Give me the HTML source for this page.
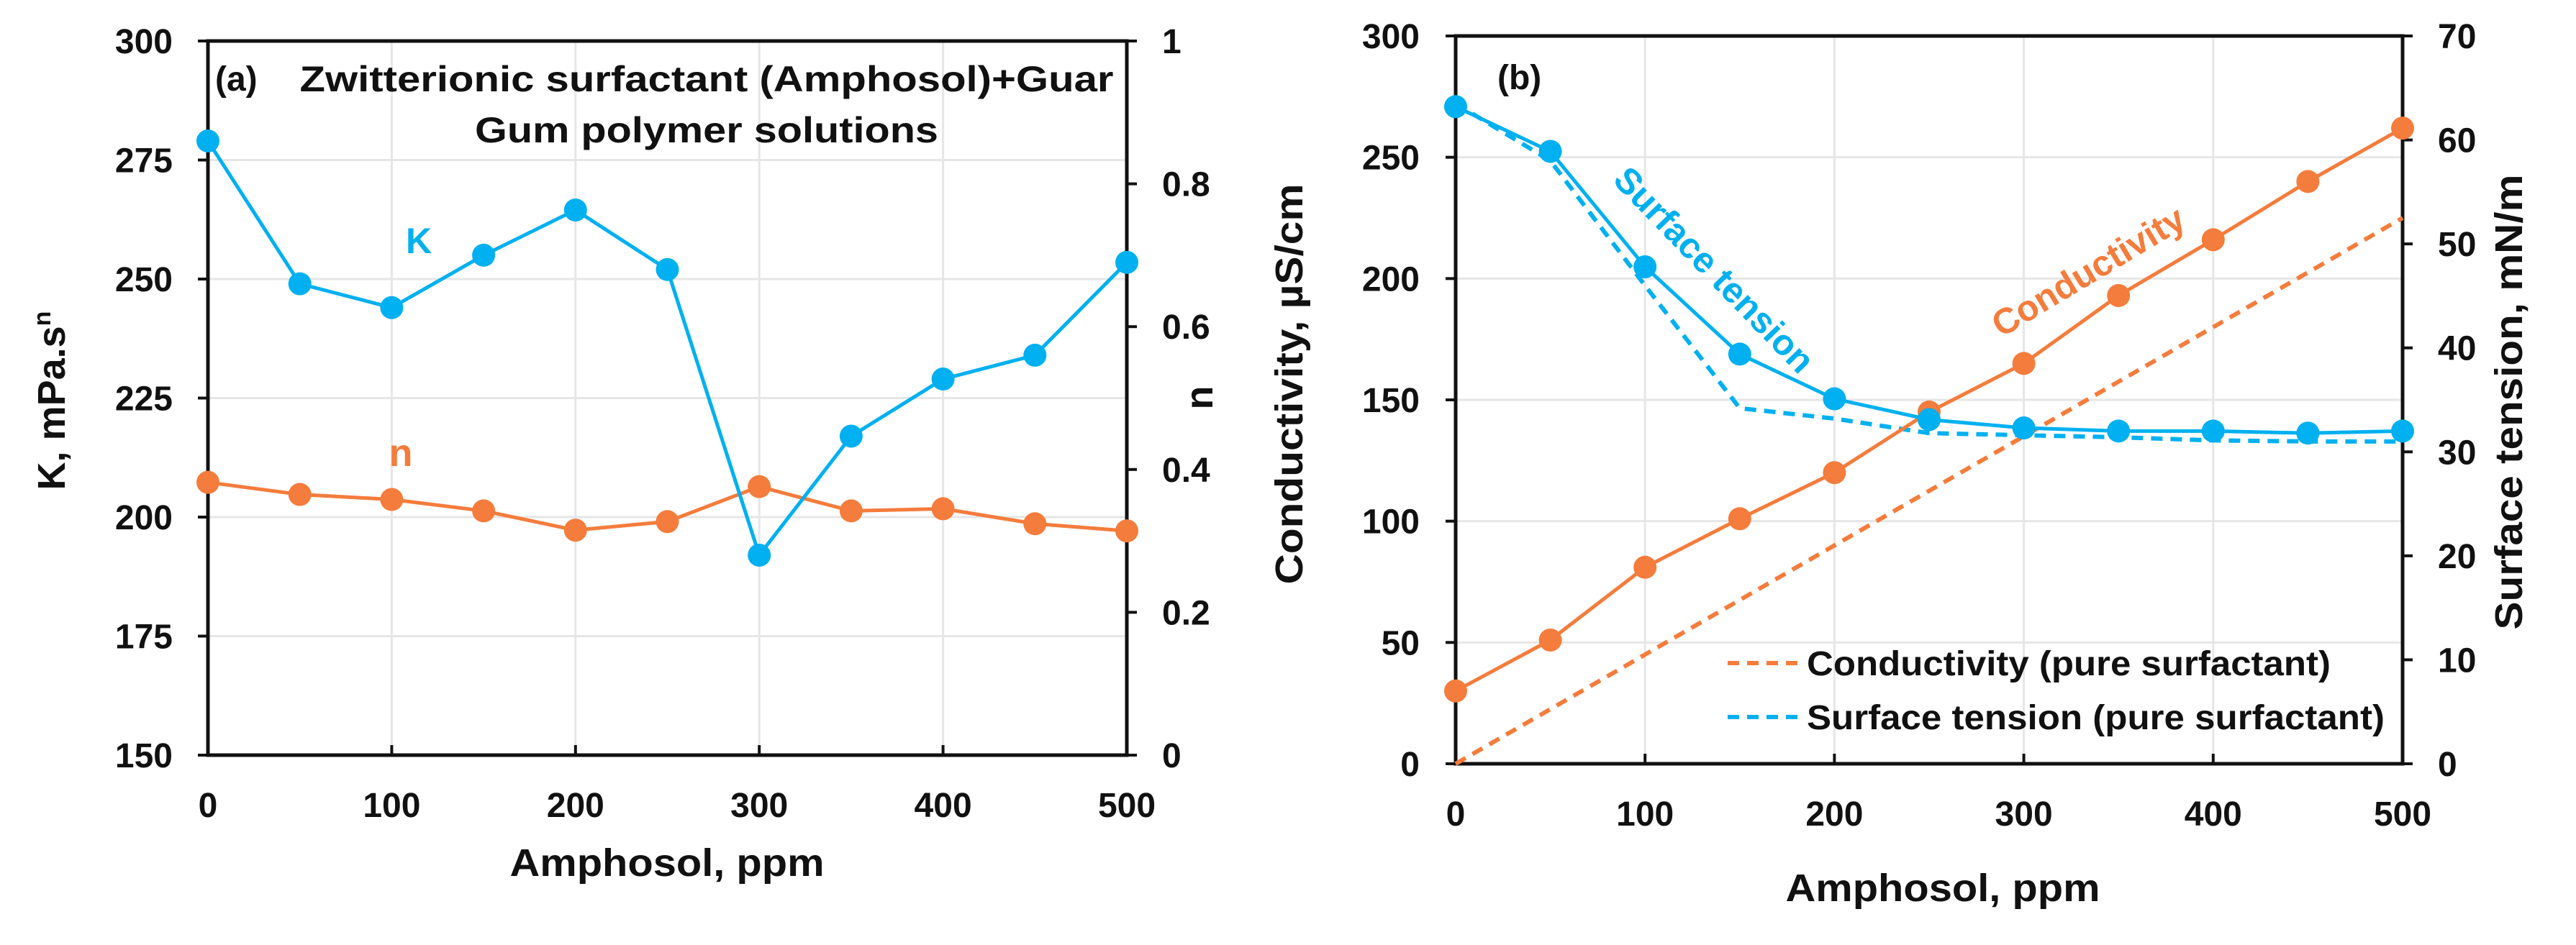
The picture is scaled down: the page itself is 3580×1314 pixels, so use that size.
<!DOCTYPE html>
<html><head><meta charset="utf-8"><style>
body{margin:0;background:#fff}
svg{display:block}
text{font-family:"Liberation Sans",sans-serif;font-weight:bold;fill:#111}
</style></head><body>
<svg id="s" width="3580" height="1314" viewBox="0 0 3580 1314" xmlns="http://www.w3.org/2000/svg"></svg>
<script>
const xCats=[0,50,100,150,200,250,300,350,400,450,500];
const kVals=[279,249,244,255,264.5,252,192,217,229,234,253.5];
const nVals=[0.382,0.365,0.358,0.342,0.315,0.327,0.376,0.342,0.345,0.324,0.314];
const condVals=[30,51,81,101,120,145,165,193,216,240,262];
const stVals=[63.2,58.9,47.8,39.4,35.1,33.1,32.3,32.0,32.0,31.8,32.0];
const condPure=[0,22.5,45,67.5,90,112.5,135,157.5,180,202.5,225];
const stPure=[63.5,58,46,34.2,33.2,31.8,31.6,31.4,31.1,31,31];
const xTicks=[0,100,200,300,400,500];
const kTicks=[150,175,200,225,250,275,300];
const nTicks=[0,0.2,0.4,0.6,0.8,1];
const condTicks=[0,50,100,150,200,250,300];
const stTicks=[0,10,20,30,40,50,60,70];
const BLUE="#00b0f0",OR="#f47c3c";
const S=document.getElementById('s');const NS="http://www.w3.org/2000/svg";
function el(t,a,p){const e=document.createElementNS(NS,t);for(const k in a)e.setAttribute(k,a[k]);(p||S).appendChild(e);return e;}
function txt(s,a,p){const e=el('text',a,p);e.textContent=s;return e;}
function lin(d0,d1,r0,r1){return v=>r0+(v-d0)/(d1-d0)*(r1-r0);}
function panel(o){
  const g=el('g',{});
  const X=lin(0,500,o.L,o.R),YL=lin(o.yl[0],o.yl[1],o.B,o.T),YR=lin(o.yr[0],o.yr[1],o.B,o.T);
  xTicks.forEach(v=>{const l=el('line',{x1:X(v),x2:X(v),y1:o.T,y2:o.B,stroke:'#e6e6e6','stroke-width':3},g);
    el('line',{x1:X(v),x2:X(v),y1:o.B-14,y2:o.B,stroke:'#111','stroke-width':4},g);
    const t=txt(v,{x:X(v),y:o.xl,'text-anchor':'middle','font-size':48},g);});
  o.lt.forEach(v=>{const l=el('line',{x1:o.L,x2:o.R,y1:YL(v),y2:YL(v),stroke:'#e6e6e6','stroke-width':3},g);
    el('line',{x1:o.L-14,x2:o.L,y1:YL(v),y2:YL(v),stroke:'#111','stroke-width':4},g);
    const t=txt(v,{x:o.lx,y:YL(v)+17,'text-anchor':'end','font-size':48},g);});
  o.rt.forEach(v=>{el('line',{x1:o.R,x2:o.R+14,y1:YR(v),y2:YR(v),stroke:'#111','stroke-width':4},g);
    const t=txt(v,{x:o.rx,y:YR(v)+17,'font-size':48},g);});
  const f=el('rect',{x:o.L,y:o.T,width:o.R-o.L,height:o.B-o.T,fill:'none',stroke:'#111','stroke-width':5},g);
  return {g,X,YL,YR};
}
function series(g,X,Y,vals,c,name,dash,markers){
  const pts=xCats.map((x,i)=>X(x)+','+Y(vals[i])).join(' ');
  const p=el('polyline',{points:pts,fill:'none',stroke:c,'stroke-width':dash?6:5,'stroke-dasharray':dash||'none'},g);
  
  if(markers)xCats.forEach((x,i)=>{const m=el('circle',{cx:X(x),cy:Y(vals[i]),r:16,fill:c},g);
    });
}
let t;
// panel a
const A=panel({name:'panel-a',L:289,R:1566,T:57,B:1050,yl:[150,300],yr:[0,1],lt:kTicks,rt:nTicks,lx:240,rx:1615,xl:1136});
series(A.g,A.X,A.YR,nVals,OR,'n',null,true);
series(A.g,A.X,A.YL,kVals,BLUE,'k',null,true);
t=txt('(a)',{x:299,y:126,'font-size':48},A.g);
t=txt('Zwitterionic surfactant (Amphosol)+Guar',{x:982,y:127,'text-anchor':'middle','font-size':50,textLength:1131,lengthAdjust:'spacingAndGlyphs'},A.g);
t=txt('Gum polymer solutions',{x:982,y:198,'text-anchor':'middle','font-size':50,textLength:644,lengthAdjust:'spacingAndGlyphs'},A.g);
t=txt('K',{x:582,y:352,'text-anchor':'middle','font-size':50,style:'fill:'+BLUE},A.g);
t=txt('n',{x:557,y:648,'text-anchor':'middle','font-size':54,style:'fill:'+OR},A.g);
t=txt('K, mPa.s',{x:0,y:0,'text-anchor':'middle','font-size':54,transform:'translate(90,557) rotate(-90)'},A.g);
el('tspan',{dy:-20,'font-size':34},t).textContent='n';
t=txt('n',{x:0,y:0,'text-anchor':'middle','font-size':54,transform:'translate(1685,553) rotate(-90)'},A.g);
t=txt('Amphosol, ppm',{x:927,y:1218,'text-anchor':'middle','font-size':54,textLength:437,lengthAdjust:'spacingAndGlyphs'},A.g);
// panel b
const B=panel({name:'panel-b',L:2023,R:3339,T:50,B:1062,yl:[0,300],yr:[0,70],lt:condTicks,rt:stTicks,lx:1973,rx:3388,xl:1148});
series(B.g,B.X,B.YL,condPure,OR,'conductivity-pure','16,11',false);
series(B.g,B.X,B.YR,stPure,BLUE,'surface-tension-pure','16,11',false);
series(B.g,B.X,B.YL,condVals,OR,'conductivity',null,true);
series(B.g,B.X,B.YR,stVals,BLUE,'surface-tension',null,true);
t=txt('(b)',{x:2081,y:124,'font-size':48},B.g);
t=txt('Surface tension',{x:0,y:0,'text-anchor':'middle','font-size':50,transform:'translate(2370,387) rotate(46)',style:'fill:'+BLUE},B.g);
t=txt('Conductivity',{x:0,y:0,'text-anchor':'middle','font-size':50,transform:'translate(2911,392) rotate(-31)',style:'fill:'+OR},B.g);
[[OR,'Conductivity (pure surfactant)',922,728],[BLUE,'Surface tension (pure surfactant)',997,803]].forEach(([c,s,y,w])=>{
  const lg=el('g',{},B.g);
  el('line',{x1:2401,x2:2503,y1:y,y2:y,stroke:c,'stroke-width':6,'stroke-dasharray':'16,11'},lg);
  txt(s,{x:2511,y:y+17,'font-size':48,textLength:w,lengthAdjust:'spacingAndGlyphs'},lg);});
t=txt('Conductivity, µS/cm',{x:0,y:0,'text-anchor':'middle','font-size':54,transform:'translate(1810,534) rotate(-90)',textLength:557,lengthAdjust:'spacingAndGlyphs'},B.g);
t=txt('Surface tension, mN/m',{x:0,y:0,'text-anchor':'middle','font-size':54,transform:'translate(3505,559) rotate(-90)',textLength:633,lengthAdjust:'spacingAndGlyphs'},B.g);
t=txt('Amphosol, ppm',{x:2700,y:1253,'text-anchor':'middle','font-size':54,textLength:437,lengthAdjust:'spacingAndGlyphs'},B.g);
</script>
</body></html>
